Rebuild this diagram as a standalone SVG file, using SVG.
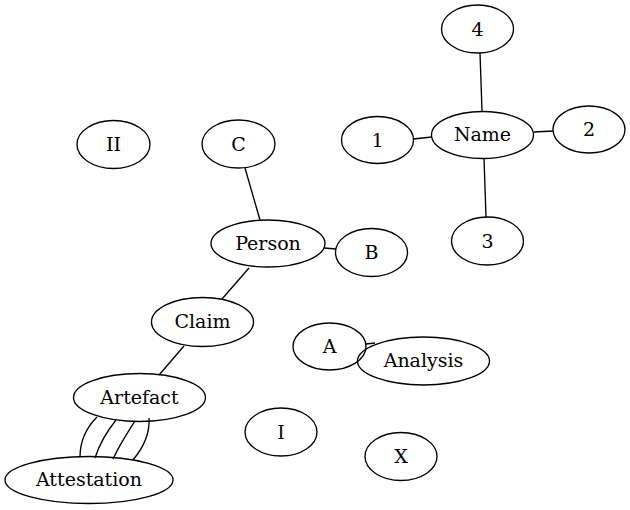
<svg xmlns="http://www.w3.org/2000/svg" width="630" height="510" viewBox="0 0 630 510">
<style>
ellipse{fill:none;stroke:#000;stroke-width:1.35}
text{font-family:"DejaVu Serif",serif;font-size:19px;text-anchor:middle;fill:#000}
#edges path{fill:none;stroke:#000;stroke-width:1.35}
</style>
<rect width="630" height="510" fill="#fff"/>
<g id="edges">
<path d="M480,53L482,111"/>
<path d="M413,139L432,137"/>
<path d="M534,132L553,131"/>
<path d="M484,158L486,217"/>
<path d="M245,168L260,220"/>
<path d="M324,248L336,249"/>
<path d="M249,268L222,299"/>
<path d="M184,346L159,375"/>
<path d="M366,344L375,343"/>
<path d="M97,417C87,427 80,440 80,457"/>
<path d="M116,420C108,430 100,442 95,458"/>
<path d="M135,421C128,432 120,444 113,459"/>
<path d="M149,418C150,433 143,448 133,460"/>
</g>
<g id="node-4"><ellipse cx="477.5" cy="29" rx="36" ry="24"/><text x="477.5" y="35.5">4</text></g>
<g id="node-II"><ellipse cx="113.5" cy="144.5" rx="36.5" ry="24"/><text x="113.5" y="151">II</text></g>
<g id="node-C"><ellipse cx="238.5" cy="144" rx="36.5" ry="24"/><text x="238.5" y="150.5">C</text></g>
<g id="node-1"><ellipse cx="377.5" cy="140" rx="36" ry="23.5"/><text x="377.5" y="146.5">1</text></g>
<g id="node-Name"><ellipse cx="482.5" cy="135" rx="51" ry="23.5"/><text x="482.5" y="141">Name</text></g>
<g id="node-2"><ellipse cx="589" cy="129.5" rx="36" ry="23.5"/><text x="589" y="136">2</text></g>
<g id="node-3"><ellipse cx="487.5" cy="241" rx="36" ry="24"/><text x="487.5" y="247.5">3</text></g>
<g id="node-Person"><ellipse cx="268" cy="243.5" rx="57" ry="23.5"/><text x="268" y="249.5">Person</text></g>
<g id="node-B"><ellipse cx="371.5" cy="252.5" rx="36" ry="24"/><text x="371.5" y="259">B</text></g>
<g id="node-Claim"><ellipse cx="202.5" cy="322" rx="51" ry="24.5"/><text x="202.5" y="328">Claim</text></g>
<g id="node-A"><ellipse cx="329.5" cy="346.5" rx="36.5" ry="23.5"/><text x="329.5" y="353">A</text></g>
<g id="node-Analysis"><ellipse cx="423.5" cy="361" rx="66" ry="24"/><text x="423.5" y="367">Analysis</text></g>
<g id="node-Artefact"><ellipse cx="139.5" cy="397.5" rx="66" ry="24"/><text x="139.5" y="403.5">Artefact</text></g>
<g id="node-I"><ellipse cx="281" cy="432" rx="36" ry="24"/><text x="281" y="438.5">I</text></g>
<g id="node-X"><ellipse cx="401" cy="456.5" rx="36" ry="24"/><text x="401" y="463">X</text></g>
<g id="node-Attestation"><ellipse cx="89" cy="480" rx="84" ry="23.5"/><text x="89" y="486">Attestation</text></g>
</svg>
